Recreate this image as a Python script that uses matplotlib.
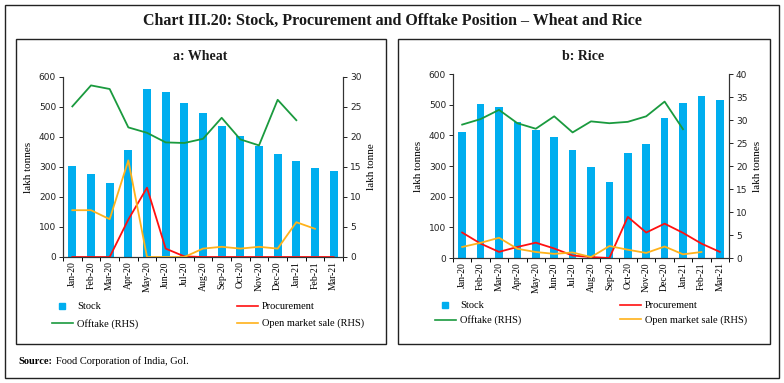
import matplotlib
matplotlib.use("Agg")
import matplotlib.pyplot as plt
from matplotlib.patches import Rectangle
from matplotlib.lines import Line2D
import numpy as np

# dane
months = ["Jan-20", "Feb-20", "Mar-20", "Apr-20", "May-20", "Jun-20", "Jul-20", "Aug-20",
          "Sep-20", "Oct-20", "Nov-20", "Dec-20", "Jan-21", "Feb-21", "Mar-21"]

wheat_stock = [303, 276, 248, 358, 559, 551, 514, 480, 438, 402, 369, 343, 319, 296, 287]
wheat_procurement = [0, 0, 0, 125, 231, 28, 2, 0, 0, 0, 0, 0, 0, 0, 0]
wheat_offtake = [25.1, 28.6, 28.0, 21.6, 20.7, 19.1, 19.0, 19.7, 23.2, 19.6, 18.6, 26.2, 22.8]
wheat_oms = [7.8, 7.8, 6.3, 16.1, 0, 0, 0, 1.4, 1.7, 1.4, 1.7, 1.4, 5.8, 4.7]

rice_stock = [410, 503, 491, 444, 416, 396, 352, 296, 249, 341, 373, 458, 504, 527, 514]
rice_procurement = [83, 47, 20, 36, 50, 31, 8, 3, 0, 134, 83, 112, 82, 47, 20]
rice_offtake = [29.0, 30.2, 32.2, 29.3, 28.1, 30.8, 27.3, 29.7, 29.3, 29.6, 30.8, 34.0, 28.0]
rice_oms = [2.4, 3.3, 4.4, 2.0, 1.3, 0.9, 1.2, 0.2, 2.6, 1.8, 1.1, 2.5, 0.8, 1.3]

BLUE = "#00AEEF"
GREEN = "#1A9A3E"
RED = "#FF1010"
ORANGE = "#FFB21A"
SERIF = "Liberation Serif"

W, H = 784, 383
fig = plt.figure(figsize=(W / 100, H / 100), dpi=100)


def px_box(x0, y0, x1, y1):
    # prostokat w pikselach -> wspolrzedne figury
    return [x0 / W, 1 - y1 / H, (x1 - x0) / W, (y1 - y0) / H]


def ramka(x0, y0, x1, y1, lw=1.0):
    b = px_box(x0, y0, x1, y1)
    fig.patches.append(Rectangle((b[0], b[1]), b[2], b[3], transform=fig.transFigure,
                                 fill=False, edgecolor="#222222", linewidth=lw))


ramka(5, 5, 779, 378)
ramka(16, 39, 386, 344)
ramka(398, 39, 770, 344)

fig.text(392 / W, 1 - 21 / H, "Chart III.20: Stock, Procurement and Offtake Position \u2013 Wheat and Rice",
         ha="center", va="center", fontsize=11.5, fontweight="bold", family=SERIF, color="#1a1a1a")
fig.text(18 / W, 1 - 361 / H, "Source:", ha="left", va="center", fontsize=7.5, fontweight="bold",
         family=SERIF)
fig.text(56 / W, 1 - 361 / H, "Food Corporation of India, GoI.", ha="left", va="center", fontsize=7.5,
         family=SERIF)


def panel(box, title, title_x, stock, proc, offtake, oms, rmax, rlabel, leg_xy, leg_cols, leg_space):
    ax = fig.add_axes(px_box(*box))
    ax2 = ax.twinx()
    x = np.arange(len(months))
    ax.bar(x, stock, width=0.42, color=BLUE, zorder=2)
    ax.plot(np.arange(len(proc)), proc, color=RED, lw=1.3, zorder=3)
    ax2.plot(np.arange(len(offtake)), offtake, color=GREEN, lw=1.3)
    ax2.plot(np.arange(len(oms)), oms, color=ORANGE, lw=1.3)

    ax.set_xlim(-0.5, len(months) - 0.5)
    ax.set_ylim(0, 600)
    ax.set_yticks(range(0, 601, 100))
    ax2.set_ylim(0, rmax)
    ax2.set_yticks(range(0, rmax + 1, 5))
    ax.set_xticks(x)
    ax.set_xticklabels(months, rotation=90, family=SERIF, fontsize=7)
    ax.set_xticks(np.arange(-0.5, len(months)), minor=True)
    ax.tick_params(axis="x", which="major", length=0, pad=3)
    ax.tick_params(axis="x", which="minor", length=3, width=0.7)
    for a in (ax, ax2):
        a.tick_params(axis="y", labelsize=6.5, length=3, width=0.7, pad=2, colors="#222222")
        for s in a.spines.values():
            s.set_linewidth(0.8)
            s.set_color("#333333")
        a.spines["top"].set_visible(False)
    ax.set_ylabel("lakh tonnes", family=SERIF, fontsize=8, labelpad=4)
    ax2.set_ylabel(rlabel, family=SERIF, fontsize=8, labelpad=4, rotation=90)

    fig.text(title_x / W, 1 - 56 / H, title, ha="center", va="center", fontsize=10,
             fontweight="bold", family=SERIF, color="#1a1a1a")

    handles = [Line2D([], [], marker="s", ls="none", color=BLUE, markersize=5),
               Line2D([], [], color=GREEN, lw=1.2),
               Line2D([], [], color=RED, lw=1.2),
               Line2D([], [], color=ORANGE, lw=1.2)]
    labels = ["Stock", "Offtake (RHS)", "Procurement", "Open market sale (RHS)"]
    fig.legend(handles, labels, loc="upper left", bbox_to_anchor=(leg_xy[0] / W, 1 - leg_xy[1] / H),
               ncol=2, frameon=False, prop={"family": SERIF, "size": 7.5}, handlelength=2.0,
               handletextpad=0.4, columnspacing=leg_cols, labelspacing=leg_space, borderpad=0,
               borderaxespad=0)


panel((63, 77, 343, 257), "a: Wheat", 200, wheat_stock, wheat_procurement, wheat_offtake, wheat_oms,
      30, "lakh tonne", (52, 302), 9.5, 0.72)
panel((453, 74, 729, 258), "b: Rice", 583, rice_stock, rice_procurement, rice_offtake, rice_oms,
      40, "lakh tonnes", (435, 301), 9.5, 0.5)

fig.savefig("out.png", dpi=100, facecolor="white")
